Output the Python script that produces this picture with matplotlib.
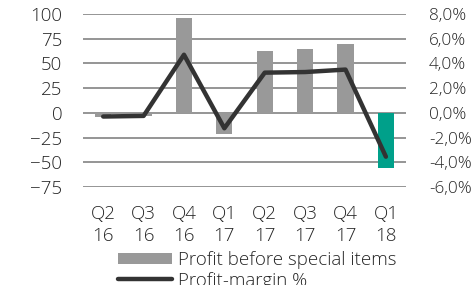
import matplotlib as mpl
mpl.use('Agg')
import matplotlib.pyplot as plt
from matplotlib.ticker import FuncFormatter

quarters = ["Q2\n16", "Q3\n16", "Q4\n16", "Q1\n17", "Q2\n17", "Q3\n17", "Q4\n17", "Q1\n18"]
profit = [-4, -3, 96, -21, 63, 65, 70, -56]
margin = [-0.3, -0.25, 4.7, -1.25, 3.25, 3.3, 3.5, -3.55]

grey = '#999999'
teal = '#00a08a'
bar_colors = [grey] * 7 + [teal]

plt.rcParams['font.family'] = ['Open Sans', 'DejaVu Sans']
plt.rcParams['font.weight'] = 'light'
fs = 13.5
txt = '#262626'

fig = plt.figure(figsize=(4.73, 2.85), dpi=100)
ax = fig.add_axes([0.1755, 0.344, 0.683, 0.607])
x = list(range(len(quarters)))

ax.set_axisbelow(True)
ax.yaxis.grid(True, color='#8c8c8c', linewidth=1.3)
bars = ax.bar(x, profit, width=0.4, color=bar_colors, label='Profit before special items', zorder=2)
ax.set_ylim(-75, 100)
ax.set_yticks([-75, -50, -25, 0, 25, 50, 75, 100])
ax.set_xlim(-0.5, len(quarters) - 0.5)
ax.set_xticks(x)
ax.set_xticklabels(quarters, linespacing=1.3)

ax2 = ax.twinx()
line, = ax2.plot(x, margin, color='#333333', linewidth=3.2, solid_capstyle='round',
                 label='Profit-margin %', zorder=3)
ax2.set_ylim(-6, 8)
ax2.set_yticks([-6, -4, -2, 0, 2, 4, 6, 8])
ax2.yaxis.set_major_formatter(FuncFormatter(lambda v, p: f"{v:.1f}%".replace('.', ',')))

for a in (ax, ax2):
    for s in a.spines.values():
        s.set_visible(False)
    a.tick_params(length=0, labelsize=fs, colors=txt)
ax.tick_params(axis='x', pad=13)
ax.tick_params(axis='y', pad=15)
ax2.tick_params(axis='y', pad=16.5, labelsize=12.3)

fig.legend([bars, line], ['Profit before special items', 'Profit-margin %'],
           loc='upper left', bbox_to_anchor=(118 / 473, 1 - 251 / 285),
           frameon=False, fontsize=fs, borderpad=0, borderaxespad=0,
           handlelength=2.9, handletextpad=0.3, labelspacing=0.14, handleheight=0.55,
           labelcolor=txt)

fig.savefig('out.png', dpi=100)
